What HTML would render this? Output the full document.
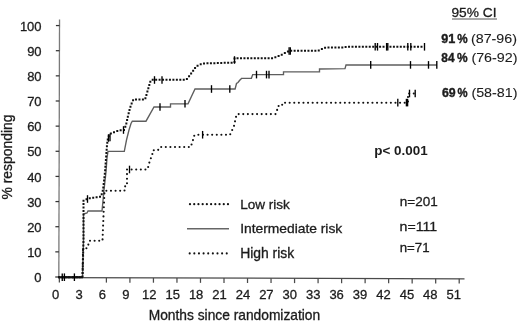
<!DOCTYPE html><html><head><meta charset="utf-8"><style>html,body{margin:0;padding:0;background:#fff;width:520px;height:325px;overflow:hidden}svg{display:block;filter:blur(0.3px)}text{font-family:"Liberation Sans",sans-serif;fill:#1c1c1c;stroke:#1c1c1c;stroke-width:0.3px}text[font-weight=bold]{stroke:none}</style></head><body>
<svg width="520" height="325" viewBox="0 0 520 325">
<g stroke="#4a4a4a" stroke-width="1.25" fill="none">
<path d="M59.53,19.5 L58.83,277.67" stroke="#7a7a7a" stroke-width="1.3"/>
<path d="M58.23,277.67 L464.5,278.76"/>
<path d="M55.23,277.00 H58.83" stroke="#333"/>
<path d="M55.30,251.86 H58.90" stroke="#333"/>
<path d="M55.37,226.71 H58.97" stroke="#333"/>
<path d="M55.44,201.57 H59.04" stroke="#333"/>
<path d="M55.50,176.42 H59.10" stroke="#333"/>
<path d="M55.57,151.28 H59.17" stroke="#333"/>
<path d="M55.64,126.14 H59.24" stroke="#333"/>
<path d="M55.71,100.99 H59.31" stroke="#333"/>
<path d="M55.78,75.85 H59.38" stroke="#333"/>
<path d="M55.84,50.70 H59.44" stroke="#333"/>
<path d="M55.91,25.56 H59.51" stroke="#333"/>
<path d="M59.36,277.67 V282.47"/>
<path d="M106.40,277.80 V282.60"/>
<path d="M129.92,277.86 V282.66"/>
<path d="M153.44,277.92 V282.72"/>
<path d="M176.96,277.99 V282.79"/>
<path d="M200.48,278.05 V282.85"/>
<path d="M224.00,278.12 V282.92"/>
<path d="M247.52,278.18 V282.98"/>
<path d="M271.04,278.24 V283.04"/>
<path d="M294.56,278.31 V283.11"/>
<path d="M318.08,278.37 V283.17"/>
<path d="M341.60,278.43 V283.23"/>
<path d="M365.12,278.50 V283.30"/>
<path d="M388.64,278.56 V283.36"/>
<path d="M412.16,278.62 V283.42"/>
<path d="M435.68,278.69 V283.49"/>
<path d="M459.20,278.75 V283.55"/>
</g>
<g font-size="13" text-anchor="end">
<text x="41.6" y="282.20">0</text>
<text x="41.6" y="257.06">10</text>
<text x="41.6" y="231.91">20</text>
<text x="41.6" y="206.77">30</text>
<text x="41.6" y="181.62">40</text>
<text x="41.6" y="156.48">50</text>
<text x="41.6" y="131.34">60</text>
<text x="41.6" y="106.19">70</text>
<text x="41.6" y="81.05">80</text>
<text x="41.6" y="55.90">90</text>
<text x="41.6" y="30.76">100</text>
</g>
<g font-size="13" text-anchor="middle">
<text x="55.60" y="298.6">0</text>
<text x="79.02" y="298.6">3</text>
<text x="102.44" y="298.6">6</text>
<text x="125.86" y="298.6">9</text>
<text x="149.28" y="298.6">12</text>
<text x="172.70" y="298.6">15</text>
<text x="196.12" y="298.6">18</text>
<text x="219.54" y="298.6">21</text>
<text x="242.96" y="298.6">24</text>
<text x="266.38" y="298.6">27</text>
<text x="289.80" y="298.6">30</text>
<text x="313.22" y="298.6">33</text>
<text x="336.64" y="298.6">36</text>
<text x="360.06" y="298.6">39</text>
<text x="383.48" y="298.6">42</text>
<text x="406.90" y="298.6">45</text>
<text x="430.32" y="298.6">48</text>
<text x="453.74" y="298.6">51</text>
</g>
<text transform="translate(148.74,320.40) scale(1.0600,1.0667)" font-size="13">Months since randomization</text>
<text transform="translate(12.3,199.50) rotate(-90) scale(1.0709,1.0889)" font-size="13">% responding</text>
<path d="M59,277.2 H82.5 L83.5,240 V214 L87,213 L88,211 H102 L104,190 L106,172 L107,158 L108,151.3 H124.3 L126.5,140 L129,130 L131,123.5 L132.3,121.2 H146 L154,107 H170.5 V103.8 H188 L195,89 H235.1 L236.5,83.5 L238,82.5 L239.5,80.5 L241,79 L241.5,78.3 H251.4 L252.7,74.6 H283.5 V71.8 H319.5 V69 L345,68.6 L346,65 H437" fill="none" stroke="#5e5e5e" stroke-width="1.35"/>
<path d="M59,277.2 H82.5 L83.5,240 V200.5 L86,199.5 L88,198.5 L101,196.5 L103,190 L105,172 L107,145 L108,137.5 L110,134 L113,132.5 L116,131.5 L119,130.5 L124,130 L126,125 L128,116 L130,108 L132,102.5 L133.5,99.5 H145 L147,93 L149,86 L150.5,81 L151.5,79.8 H186 L188,78 L190,75 L192,72.5 L194,69.5 L196,66.5 L199,65 L203,63.5 L233,62.6 L234.5,62.6 V58.2 H272 L276,57 L280,55.5 L284,53.5 L288,51.5 L289.5,50.8 H318 L320,50 L322,49 L324,48 L327,47.6 H344 L346,46.8 H424.5" fill="none" stroke="#111" stroke-width="2" stroke-dasharray="0 3.45" stroke-linecap="square"/>
<path d="M59,277.2 H82.5 L83,249 L87.5,248 L88.5,244 L89.5,240.7 H102.5 L104.5,190.7 H124.5 V186.5 L127,186 V169.5 H147.5 L149,164 L150,160 L151,158 L152.5,153.5 L153,150.2 H158 L160,147 H190.75 L192,143 L193,140 L194,136 L195,134.75 H230 L232,130.5 L234,126 L235,121.5 L236,117 L237,114.1 H275.6 L277,110.5 L278,106 H282 L282.5,102.8 H408 V93.5 H415.5" fill="none" stroke="#111" stroke-width="2.1" stroke-dasharray="0 4.6" stroke-linecap="round"/>
<path d="M59,277.2 H83" stroke="#111" stroke-width="2"/>
<g stroke="#000" stroke-width="1.35">
<path d="M62.25,273.40 V281.00"/>
<path d="M64.4,273.40 V281.00"/>
<path d="M74.4,273.40 V281.00"/>
<path d="M87.5,195.20 V202.80"/>
<path d="M108.5,134.20 V141.80"/>
<path d="M110,133.70 V141.30"/>
<path d="M123.5,126.20 V133.80"/>
<path d="M154.5,76.20 V83.80"/>
<path d="M162,76.20 V83.80"/>
<path d="M234.5,56.20 V63.80"/>
<path d="M289.1,47.20 V54.80"/>
<path d="M290.3,47.20 V54.80"/>
<path d="M375.2,43.00 V50.60"/>
<path d="M377.5,43.00 V50.60"/>
<path d="M386.6,43.00 V50.60"/>
<path d="M387.8,43.00 V50.60"/>
<path d="M407.8,43.00 V50.60"/>
<path d="M410.8,43.00 V50.60"/>
<path d="M424.5,43.00 V50.60"/>
<path d="M160,103.20 V110.80"/>
<path d="M185,100.00 V107.60"/>
<path d="M211.5,85.20 V92.80"/>
<path d="M229.8,85.20 V92.80"/>
<path d="M256.5,70.80 V78.40"/>
<path d="M266.5,70.80 V78.40"/>
<path d="M269,70.80 V78.40"/>
<path d="M370.7,61.10 V68.70"/>
<path d="M410.5,61.10 V68.70"/>
<path d="M428.5,61.10 V68.70"/>
<path d="M436.8,61.10 V68.70"/>
<path d="M129.5,165.70 V173.30"/>
<path d="M202.6,130.95 V138.55"/>
<path d="M397.8,98.80 V106.40"/>
<path d="M406.4,98.80 V106.40"/>
<path d="M407.6,98.80 V106.40"/>
<path d="M409.5,89.70 V97.30"/>
<path d="M415.2,89.70 V97.30"/>
</g>
<g fill="#111">
<circle cx="190.00" cy="204.2" r="1.1"/>
<circle cx="194.22" cy="204.2" r="1.1"/>
<circle cx="198.44" cy="204.2" r="1.1"/>
<circle cx="202.66" cy="204.2" r="1.1"/>
<circle cx="206.88" cy="204.2" r="1.1"/>
<circle cx="211.10" cy="204.2" r="1.1"/>
<circle cx="215.32" cy="204.2" r="1.1"/>
<circle cx="219.54" cy="204.2" r="1.1"/>
<circle cx="223.76" cy="204.2" r="1.1"/>
<circle cx="227.98" cy="204.2" r="1.1"/>
<circle cx="189.70" cy="253.4" r="1.05"/>
<circle cx="194.33" cy="253.4" r="1.05"/>
<circle cx="198.96" cy="253.4" r="1.05"/>
<circle cx="203.59" cy="253.4" r="1.05"/>
<circle cx="208.22" cy="253.4" r="1.05"/>
<circle cx="212.85" cy="253.4" r="1.05"/>
<circle cx="217.48" cy="253.4" r="1.05"/>
<circle cx="222.11" cy="253.4" r="1.05"/>
<circle cx="226.74" cy="253.4" r="1.05"/>
</g>
<path d="M187,228.75 H229" stroke="#666" stroke-width="1.4"/>
<text transform="translate(240.16,208.80) scale(1.0426,1.0444)" font-size="13">Low risk</text>
<text transform="translate(240.14,233.40) scale(1.0642,1.0444)" font-size="13">Intermediate risk</text>
<text transform="translate(240.13,257.80) scale(1.0714,1.0667)" font-size="13">High risk</text>
<text transform="translate(399.76,205.50) scale(1.0400,0.9889)" font-size="13">n=201</text>
<text transform="translate(399.61,231.00) scale(1.0879,0.9889)" font-size="13">n=111</text>
<text transform="translate(399.68,251.60) scale(1.0214,1.0333)" font-size="13">n=71</text>
<text transform="translate(374.27,155.10) scale(1.0333,1.0444)" font-size="13" font-weight="bold">p&lt; 0.001</text>
<text transform="translate(451.44,16.80) scale(1.0561,1.0333)" font-size="13">95% CI</text>
<path d="M452,19 H497" stroke="#555" stroke-width="1"/>
<text transform="translate(441.30,42.60) scale(0.9714,1.0222)" font-size="13" font-weight="bold" style="stroke:#1c1c1c;stroke-width:0.4px">91</text>
<text transform="translate(457.20,42.60) scale(0.9000,1.0222)" font-size="13" font-weight="bold" style="stroke:#1c1c1c;stroke-width:0.4px">%</text>
<text transform="translate(471.00,43.20) scale(1.0975,1.0222)" font-size="13" style="stroke-width:0.1px">(87-96)</text>
<text transform="translate(441.30,62.00) scale(0.9133,1.0222)" font-size="13" font-weight="bold" style="stroke:#1c1c1c;stroke-width:0.4px">84</text>
<text transform="translate(457.00,62.00) scale(0.9182,1.0222)" font-size="13" font-weight="bold" style="stroke:#1c1c1c;stroke-width:0.4px">%</text>
<text transform="translate(471.40,62.20) scale(1.1000,1.0222)" font-size="13" style="stroke-width:0.1px">(76-92)</text>
<text transform="translate(442.00,96.90) scale(0.9500,1.0222)" font-size="13" font-weight="bold" style="stroke:#1c1c1c;stroke-width:0.4px">69</text>
<text transform="translate(457.60,96.90) scale(0.8727,1.0222)" font-size="13" font-weight="bold" style="stroke:#1c1c1c;stroke-width:0.4px">%</text>
<text transform="translate(471.40,96.80) scale(1.1000,1.0000)" font-size="13" style="stroke-width:0.1px">(58-81)</text>
</svg></body></html>
